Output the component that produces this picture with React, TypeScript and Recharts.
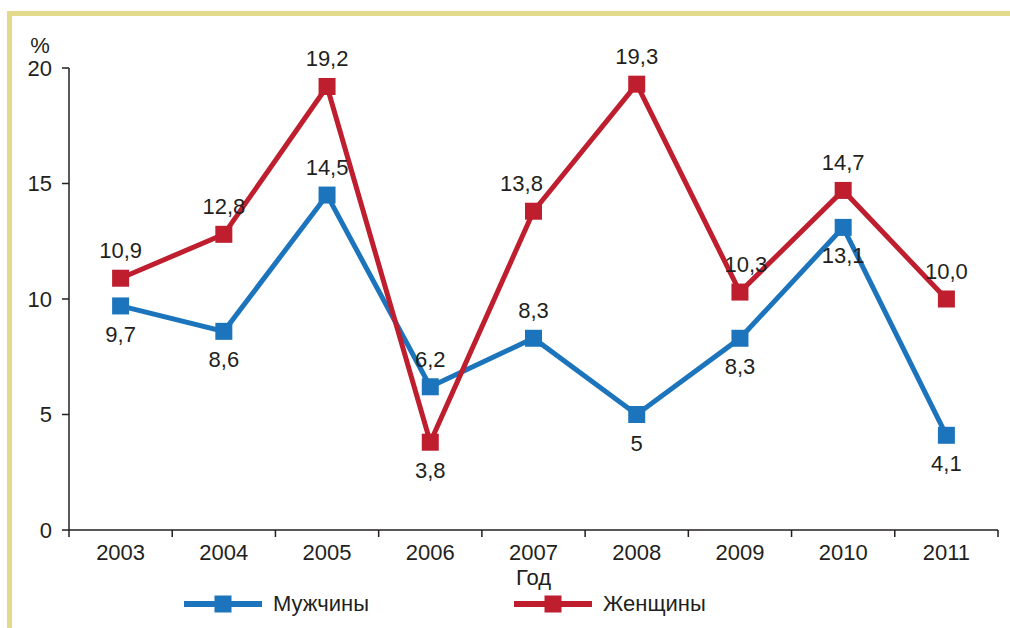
import { LineChart, Line, XAxis, YAxis, LabelList } from 'recharts';

const years = ['2003', '2004', '2005', '2006', '2007', '2008', '2009', '2010', '2011'];
const men = [9.7, 8.6, 14.5, 6.2, 8.3, 5, 8.3, 13.1, 4.1];
const women = [10.9, 12.8, 19.2, 3.8, 13.8, 19.3, 10.3, 14.7, 10.0];
const menLabels = ['9,7', '8,6', '14,5', '6,2', '8,3', '5', '8,3', '13,1', '4,1'];
const womenLabels = ['10,9', '12,8', '19,2', '3,8', '13,8', '19,3', '10,3', '14,7', '10,0'];
const yTicks = [0, 5, 10, 15, 20];

// where each value label sits relative to its marker
const menPlace = ['below', 'below', 'above', 'above', 'above', 'below', 'below', 'below', 'below'];
const womenPlace = ['above', 'above', 'above', 'below', 'above', 'above', 'above', 'above', 'above'];
const womenShift = [0, 0, 0, 0, -12, 0, 6, 0, 0];

const BLUE = '#1c75bc';
const RED = '#be1e2d';
const TEXT = '#231f20';
const FONT = '"Liberation Sans Narrow", "Arial Narrow", "Liberation Sans", sans-serif';
const FS = 22;

const W = 1010;
const H = 628;
const LEFT = 69;
const RIGHT = 12;
const BAND = (W - LEFT - RIGHT) / years.length;

const data = years.map((y, i) => ({ year: y, men: men[i], women: women[i] }));

function SquareDot(props: any) {
  const { cx, cy, fill, index } = props;
  if (cx == null || cy == null) return null;
  return <rect key={index} x={cx - 8.5} y={cy - 8.5} width={17} height={17} fill={fill} />;
}

function makeLabel(labels: string[], place: string[], shift: number[] | null) {
  return (props: any) => {
    const { x, y, index } = props;
    const above = place[index] === 'above';
    const dx = shift ? shift[index] : 0;
    return (
      <text
        x={x + dx}
        y={above ? y - 20 : y + 36}
        textAnchor="middle"
        fill={TEXT}
        fontSize={FS}
        fontFamily={FONT}
      >
        {labels[index]}
      </text>
    );
  };
}

function YearTick(props: any) {
  const { x, y, payload, index } = props;
  const axisY = y - 14;
  const half = BAND / 2;
  return (
    <g>
      <line x1={x - half} x2={x - half} y1={axisY} y2={axisY + 7} stroke={TEXT} strokeWidth={1.5} />
      {index === years.length - 1 && (
        <line x1={x + half} x2={x + half} y1={axisY} y2={axisY + 7} stroke={TEXT} strokeWidth={1.5} />
      )}
      <text x={x} y={y} dy="0.71em" textAnchor="middle" fill={TEXT} fontSize={FS} fontFamily={FONT}>
        {payload.value}
      </text>
    </g>
  );
}

function LegendItem({ color, label, left }: { color: string; label: string; left: number }) {
  return (
    <div style={{ position: 'absolute', left, top: 592, height: 24, display: 'flex', alignItems: 'center' }}>
      <svg width={80} height={24}>
        <line x1={0} x2={78} y1={12} y2={12} stroke={color} strokeWidth={6} />
        <rect x={30.5} y={3.5} width={17} height={17} fill={color} />
      </svg>
      <span style={{ marginLeft: 9, fontSize: FS, fontFamily: FONT, color: TEXT, lineHeight: '24px' }}>{label}</span>
    </div>
  );
}

export default function App() {
  return (
    <div style={{ position: 'absolute', left: 0, top: 0, width: W, height: H, background: '#fff', overflow: 'hidden' }}>
      <div
        style={{
          position: 'absolute',
          left: 7,
          top: 11,
          right: 0,
          bottom: 0,
          borderTop: '5px solid #e3d98b',
          borderLeft: '5px solid #e3d98b',
        }}
      />
      <div style={{ position: 'absolute', left: 0, top: 0 }}>
        <LineChart width={W} height={H} data={data} margin={{ top: 68, right: RIGHT, bottom: 0, left: 0 }}>
          <XAxis
            dataKey="year"
            scale="band"
            height={98}
            tickLine={false}
            tickSize={6}
            tickMargin={8}
            axisLine={{ stroke: TEXT, strokeWidth: 1.5 }}
            tick={<YearTick />}
            interval={0}
            label={{ value: 'Год', position: 'insideTop', offset: 39, fill: TEXT, fontSize: FS, fontFamily: FONT }}
          />
          <YAxis
            width={LEFT}
            domain={[0, 20]}
            ticks={yTicks}
            tickSize={7}
            tickMargin={10}
            tickLine={{ stroke: TEXT, strokeWidth: 1.5 }}
            axisLine={{ stroke: TEXT, strokeWidth: 1.5 }}
            tick={{ fill: TEXT, fontSize: FS, fontFamily: FONT }}
            label={(p: any) => {
              const vb = p.viewBox || { x: 0, y: 68 };
              return (
                <text x={40} y={vb.y - 15} textAnchor="middle" fill={TEXT} fontSize={FS} fontFamily={FONT}>
                  %
                </text>
              );
            }}
          />
          <Line
            dataKey="men"
            stroke={BLUE}
            strokeWidth={5}
            fill={BLUE}
            dot={<SquareDot />}
            activeDot={false}
            isAnimationActive={false}
          >
            <LabelList dataKey="men" content={makeLabel(menLabels, menPlace, null)} />
          </Line>
          <Line
            dataKey="women"
            stroke={RED}
            strokeWidth={5}
            fill={RED}
            dot={<SquareDot />}
            activeDot={false}
            isAnimationActive={false}
          >
            <LabelList dataKey="women" content={makeLabel(womenLabels, womenPlace, womenShift)} />
          </Line>
        </LineChart>
      </div>
      <LegendItem color={BLUE} label="Мужчины" left={184} />
      <LegendItem color={RED} label="Женщины" left={514} />
    </div>
  );
}
